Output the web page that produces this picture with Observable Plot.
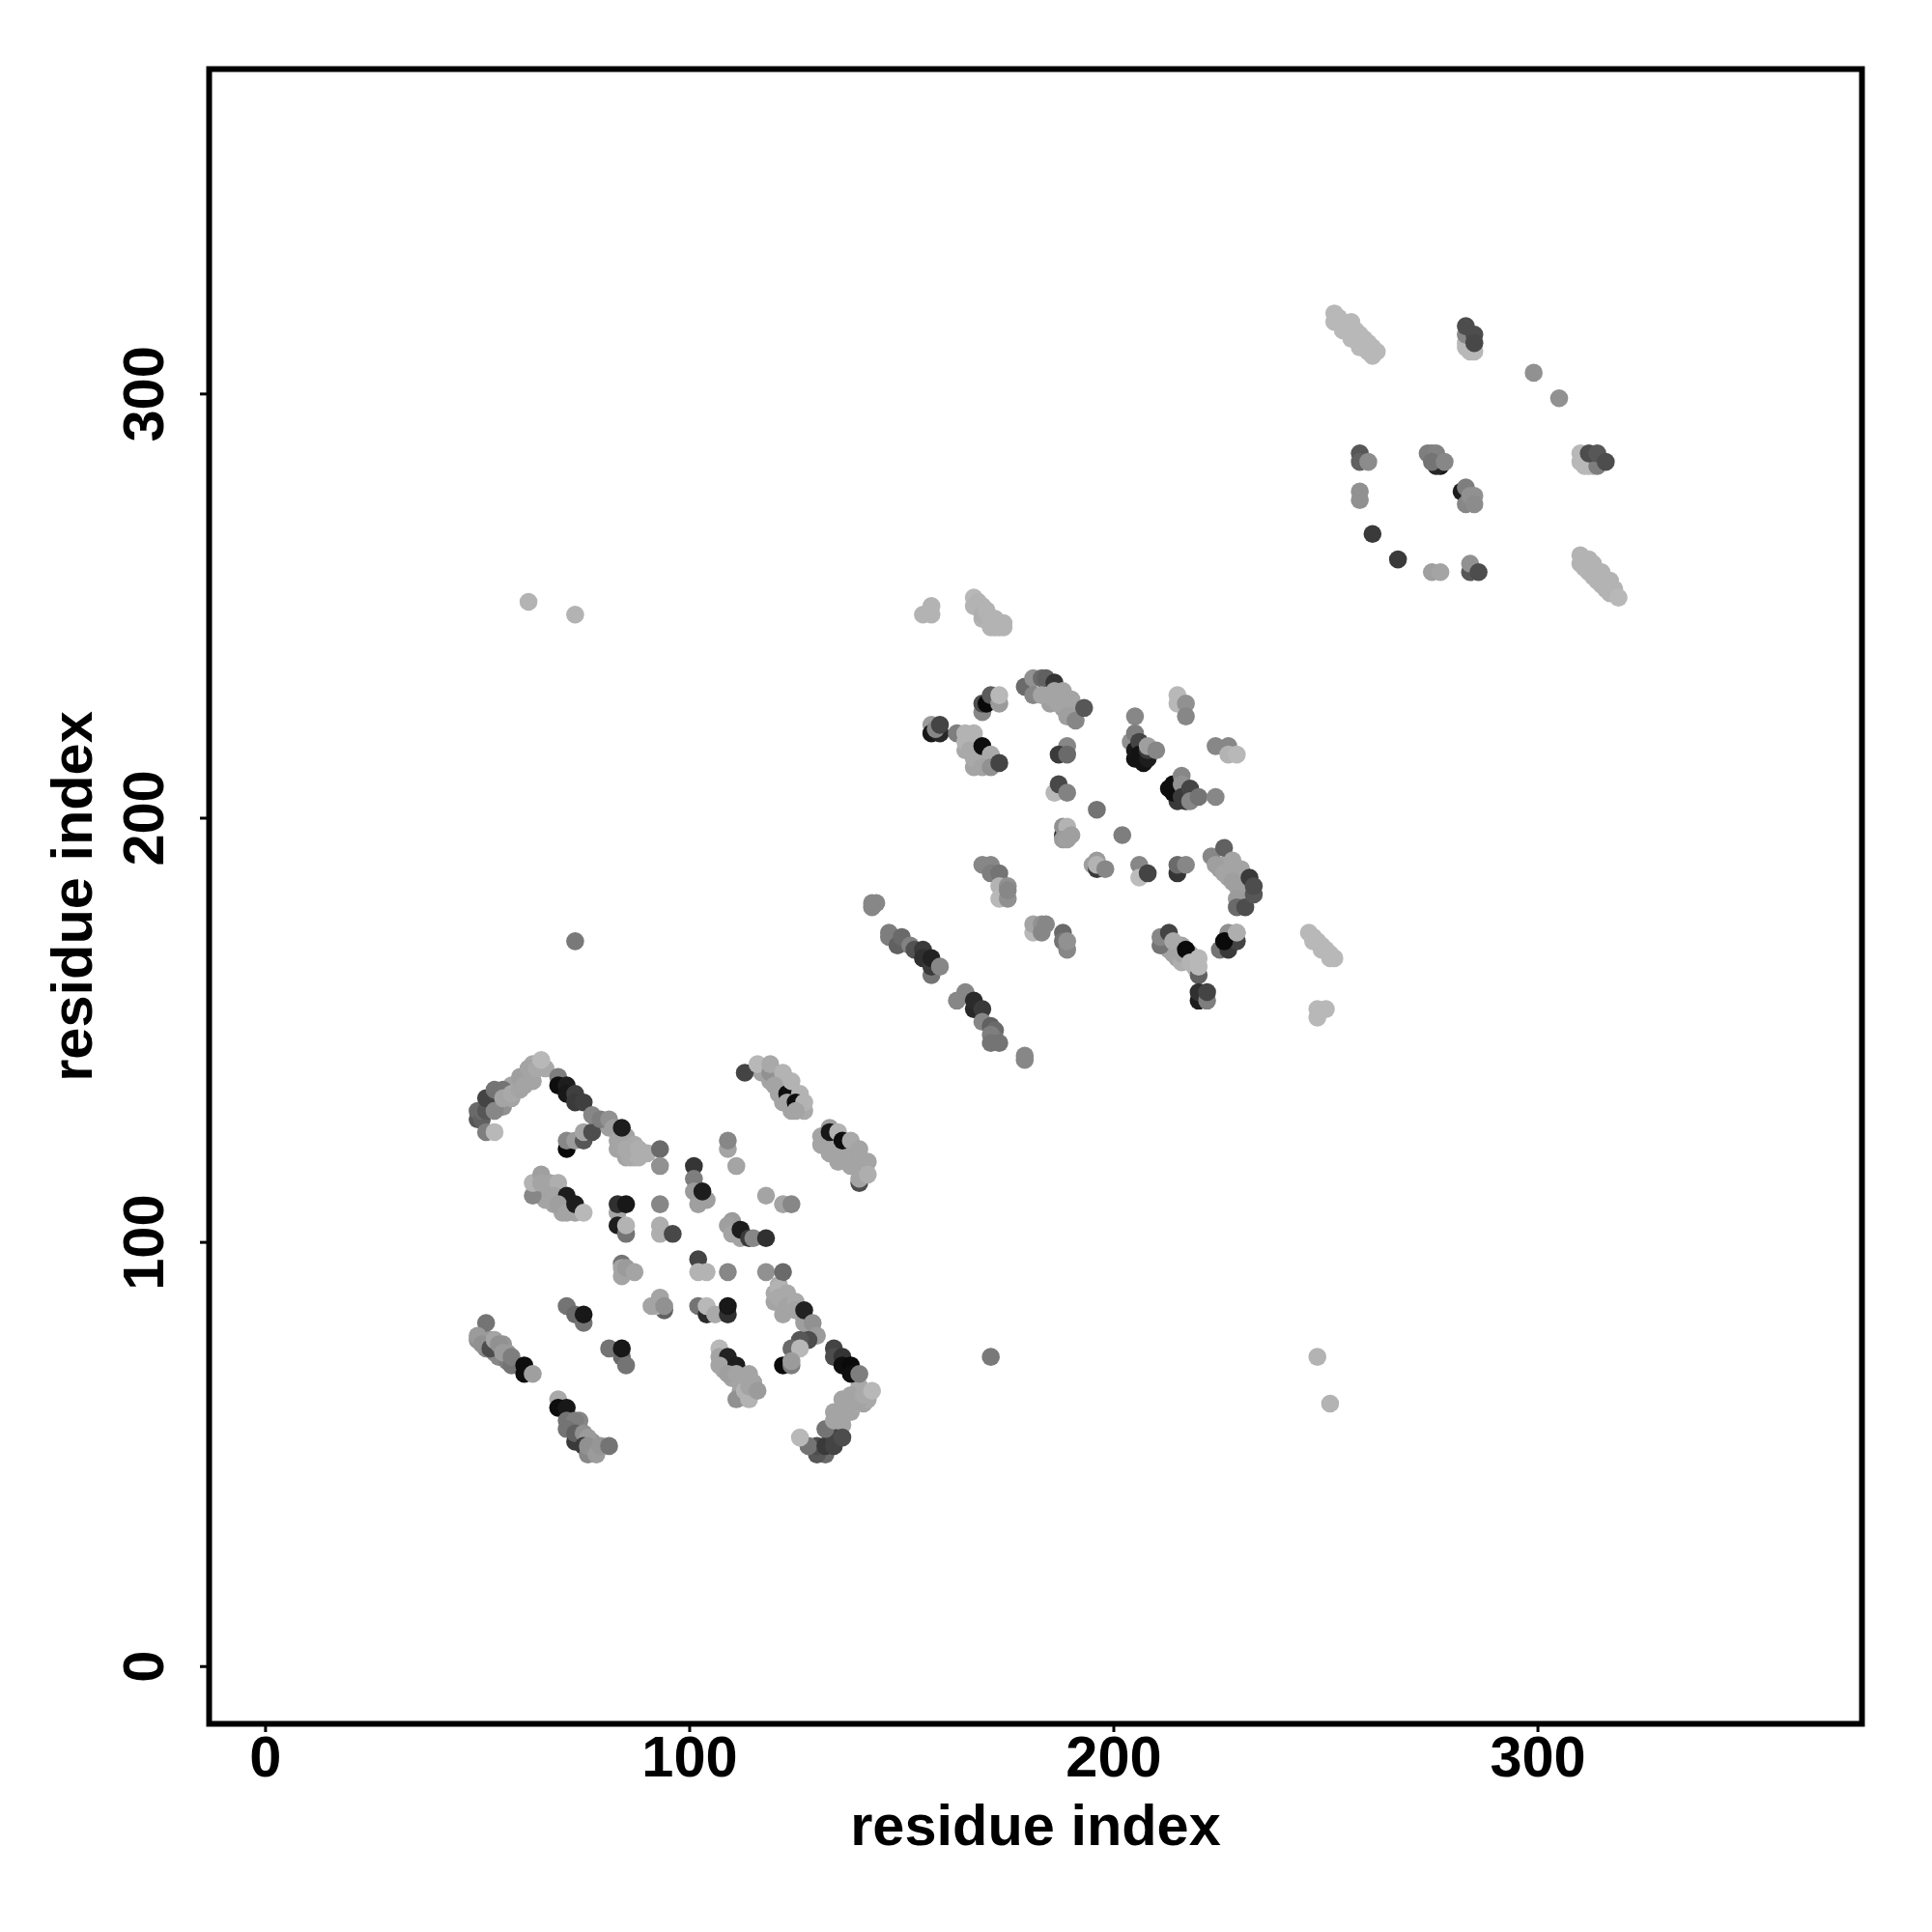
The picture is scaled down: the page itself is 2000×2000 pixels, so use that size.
<!DOCTYPE html>
<html><head><meta charset="utf-8">
<script src="https://cdn.jsdelivr.net/npm/d3@7"></script>
<script src="https://cdn.jsdelivr.net/npm/@observablehq/plot@0.6"></script>
<style>html,body{margin:0;padding:0;background:#fff}svg{display:block}</style>
</head><body><div id="chart"></div>
<script>
// each entry: residue x, residue y, grey shade (0 black .. 255 white)
const strandInfillLow=[[56,132,150],[58,137,170],[60,138,170],[63,138,170],[63,142,175],[66,141,175],[81,127,165],[83,122,170],[85,120,170],[86,120,175],[87,120,175],[88,120,180],[90,121,180],[65,112,170],[67,112,170],[66,110,170],[68,109,170],[70,107,170],[50,77,150],[52,77,150],[52,75,140],[54,74,140],[55,73,140],[57,72,130],[53,77,160],[56,76,155],[57,74,160],[74,56,130],[75,54,140],[77,51,155],[77,53,150],[74,58,140],[72,57,130],[78,52,155],[108,70,170],[110,68,170],[112,69,170],[112,65,170],[113,67,170],[115,67,170],[110,71,170],[108,72,170],[134,56,170],[136,57,170],[136,59,170],[138,60,170],[139,62,175],[141,62,170],[140,66,175],[142,63,175],[127,82,165],[122,83,170],[120,86,170],[120,88,175],[121,90,180],[117,140,170],[119,138,170],[121,137,170],[123,137,170],[125,135,175],[122,133,170],[124,131,170],[126,132,175],[127,131,175],[131,123,170],[133,121,170],[135,123,170],[137,121,170],[135,119,170],[137,120,170],[139,118,170],[140,118,170],[141,116,170]];
const strandInfillHigh=[[185,229,170],[187,229,170],[188,226,165],[189,226,170],[190,225,165],[185,227,165],[186,228,170],[165,216,175],[169,214,175],[169,215,175],[167,212,170],[170,214,175],[168,216,175],[225,188,165],[227,186,170],[226,189,170],[228,187,170],[230,185,170],[231,186,170],[230,183,165],[212,170,170],[213,169,170],[214,168,170],[215,167,170],[216,170,170],[218,168,170],[216,166,180],[219,165,185],[205,214,20],[207,213,20],[206,216,25],[207,215,25],[213,207,15],[215,206,30],[217,204,60],[215,204,60],[217,206,60],[214,207,20],[247,171,190],[249,169,190],[251,167,190],[169,247,185],[171,245,185],[173,245,185],[174,245,185],[252,317,190],[254,315,190],[256,313,190],[258,311,190],[260,310,190],[261,309,190],[311,259,185],[313,257,185],[315,255,185],[317,253,185],[313,260,185],[315,258,185],[317,256,185],[318,254,185],[311,284,190],[312,283,190]];
const clusterA=[[50,129,90],[50,131,110],[51,129,100],[51,131,110],[52,131,90],[52,126,130],[54,126,190],[53,134,80],[52,134,70],[54,134,70],[54,131,140],[54,136,120],[56,136,120],[56,134,170],[58,134,170],[58,135,175],[60,136,170],[60,139,165],[61,137,170],[62,141,170],[63,140,170],[64,141,175],[65,142,175],[65,143,190]];
const clusterB=[[69,139,130],[69,137,15],[71,137,30],[71,135,25],[73,135,65],[73,133,60],[75,133,65]];
const clusterC=[[71,122,10],[71,124,140],[73,124,160],[75,124,90],[75,126,170],[77,126,80],[77,130,140],[79,129,130],[81,129,150],[82,127,165],[83,124,170],[85,125,170],[84,127,30],[85,122,175],[87,123,175],[88,122,180],[89,121,180]];
const centreUpper=[[93,122,110],[93,118,150],[101,118,55],[101,115,130],[101,112,160],[104,110,165],[102,109,165],[103,112,30],[109,122,170],[109,124,140],[111,118,170],[118,111,170],[122,109,170],[124,109,140]];
const clusterD=[[63,111,140],[63,114,185],[65,116,165],[65,114,170],[67,114,170],[69,114,180],[68,111,170],[71,111,30],[69,109,165],[71,107,170],[73,107,170],[73,109,30],[75,107,190]];
const centreMid=[[83,107,170],[83,109,50],[85,109,25],[83,104,30],[85,102,120],[85,104,185],[93,109,140],[93,102,180],[93,104,180],[96,102,75],[110,105,160],[109,104,165],[110,102,170],[112,101,170],[112,103,30],[114,101,60],[115,101,140],[118,101,50],[102,96,70],[102,93,185],[104,93,185],[109,93,140],[118,93,150],[122,93,110],[84,95,120],[84,92,170],[84,94,170],[85,94,160],[87,93,170]];
const centreLow=[[94,84,100],[92,85,185],[91,85,170],[93,87,170],[94,85,150],[102,85,120],[104,83,45],[104,85,190],[106,83,175],[109,83,50],[109,85,25],[71,85,120],[73,83,110],[75,81,120],[75,83,25]];
const clusterE=[[121,89,185],[121,87,175],[123,88,175],[123,85,170],[125,86,175],[125,84,170],[127,81,165],[127,84,35],[129,79,165],[129,81,150],[130,78,160],[128,77,80],[126,77,90],[124,75,110],[126,75,190],[122,71,10],[124,71,130],[124,72,160]];
const clusterF=[[52,81,120],[50,78,160],[51,76,150],[53,75,80],[54,77,170],[55,76,150],[56,74,160],[58,71,120],[58,73,130],[61,71,15],[61,69,15],[63,69,165]];
const clusterG=[[69,63,175],[69,61,15],[71,61,25],[71,58,120],[73,58,130],[71,56,120],[73,53,60],[73,55,100],[75,55,150],[76,54,160],[75,52,60],[76,50,140],[76,52,150],[78,50,160],[79,52,155],[81,52,120]];
const clusterH=[[81,75,120],[84,73,110],[84,75,25],[85,71,120]];
const clusterI=[[107,75,190],[107,73,170],[109,73,35],[107,71,170],[111,71,30],[109,69,165],[111,69,170],[114,69,170],[112,67,170],[111,63,150],[113,65,185],[114,63,185],[114,66,170],[116,65,160]];
const clusterJ=[[134,75,70],[134,73,80],[136,73,55],[136,71,15],[138,71,10],[138,69,15],[140,69,130]];
const clusterK=[[132,50,110],[130,50,90],[130,52,80],[128,52,120],[126,54,190],[132,52,60],[134,52,70],[134,54,70],[136,54,80],[132,56,120],[134,58,170],[134,60,170],[136,60,170],[136,63,170],[138,62,170],[138,64,170],[140,63,170],[141,64,175],[143,65,190]];
const clusterL=[[113,140,70],[116,142,190],[119,140,150],[119,142,175],[122,140,185],[120,137,170],[121,135,170],[123,135,15],[124,138,185],[126,135,185],[123,133,170],[125,133,15],[127,133,185],[125,131,170]];
const clusterM=[[131,125,170],[133,123,170],[133,127,165],[133,126,25],[135,126,185],[135,121,170],[136,124,15],[138,124,175],[138,118,170],[140,114,80],[140,115,170],[140,122,170],[142,119,170],[142,116,180]];
const topPairs=[[155,248,185],[157,250,185],[157,248,185],[167,252,190],[167,250,185],[168,251,185],[169,250,185],[169,248,180],[170,249,185],[171,247,185],[172,247,185],[171,246,185],[172,245,185],[173,246,185],[174,246,185]];
const clusterN=[[157,222,160],[157,220,25],[159,220,40],[158,221,140],[159,222,70]];
const clusterO=[[163,220,130],[165,220,185],[167,220,185],[165,218,185],[167,218,185],[166,216,175],[167,214,175],[169,217,15],[171,215,175],[169,212,170],[171,212,150],[173,213,70]];
const clusterP=[[169,225,140],[169,227,80],[170,227,10],[171,229,95],[173,227,160],[173,229,190]];
const clusterQ=[[179,231,110],[181,233,150],[181,229,140],[183,233,110],[184,233,100],[186,232,55],[183,229,170],[186,230,170],[188,230,170],[187,227,170],[190,228,170],[189,224,165],[191,223,140],[193,226,90]];
const clusterR=[[189,217,140],[187,215,60],[189,215,110],[186,206,190],[187,208,75],[189,206,135],[196,202,120],[202,196,130]];
const clusterS=[[188,196,50],[188,198,150],[189,198,185],[188,195,160],[189,195,165],[190,196,165],[195,189,165],[196,190,160],[196,188,60],[196,189,185],[198,188,140],[206,189,140],[206,186,195],[208,187,70],[215,187,55],[215,189,110],[217,189,140]];
const clusterT=[[169,189,140],[171,189,140],[171,187,130],[173,187,120],[173,184,185],[173,181,190],[175,181,150],[175,184,150],[175,183,140]];
const clusterU=[[143,179,140],[143,180,140],[144,180,140],[147,173,130],[147,172,130],[149,170,100],[150,172,110],[152,170,135],[153,169,85],[155,169,60],[155,167,50],[157,163,120],[157,165,60],[157,167,35],[159,165,140]];
const clusterV=[[181,173,190],[181,175,170],[183,175,150],[184,175,140],[183,173,140],[188,173,110],[188,171,120],[189,169,140],[189,171,150]];
const clusterW=[[211,170,120],[211,172,140],[213,173,70],[214,171,175],[216,168,170],[217,169,10],[220,163,100],[218,166,185],[220,165,190],[220,167,190],[220,157,30],[220,159,50],[222,157,130],[222,159,70]];
const clusterX=[[227,173,150],[229,173,180],[225,169,120],[227,169,60],[229,171,70],[226,171,10],[229,173,180]];
const clusterY=[[223,191,140],[226,193,100],[224,189,165],[228,190,170],[226,187,170],[230,188,170],[228,185,165],[229,184,165],[229,181,160],[229,179,110],[231,179,80],[232,186,60],[233,182,90],[233,184,80]];
const clusterZ=[[205,224,140],[204,218,150],[205,220,130],[205,216,25],[206,218,70],[206,215,20],[208,214,30],[208,216,60],[208,217,165],[210,216,140],[215,229,190],[215,227,190],[217,227,150],[217,224,140]];
const clusterAA=[[214,206,15],[214,208,15],[216,210,140],[216,208,150],[216,205,60],[218,207,70],[218,204,140],[220,205,120],[224,205,140],[224,217,140],[227,217,140],[227,215,185],[229,215,190]];
const clusterAB=[[165,159,140],[163,157,140],[167,155,40],[167,157,45],[169,155,60],[169,152,140],[171,151,100],[172,150,110],[172,148,120],[171,149,130],[171,147,120],[173,147,120],[179,143,140],[179,144,140]];
const rightPairs=[[246,173,190],[247,172,190],[248,171,190],[249,170,190],[250,169,190],[251,168,190],[252,167,190],[248,153,190],[248,155,190],[250,155,190]];
const farPoints=[[73,248,185],[62,251,185],[73,171,125],[171,73,125],[248,73,185],[251,62,185]];
const topStrand=[[252,319,190],[253,318,190],[254,317,190],[256,317,190],[255,316,190],[257,315,190],[258,314,190],[259,313,190],[260,312,190],[260,310,190],[261,311,190],[262,310,190]];
const topKnot=[[283,311,190],[283,312,190],[284,310,190],[285,310,190],[284,312,190],[283,314,140],[283,316,80],[285,314,80],[285,312,75]];
const loop=[[299,305,150],[305,299,150],[258,286,90],[258,284,100],[260,284,145],[258,277,150],[258,275,150],[261,267,60],[267,261,60],[275,258,165],[277,258,170],[284,258,90],[284,260,150],[286,258,80]];
const innerKnot=[[277,283,25],[276,283,40],[274,286,130],[275,286,130],[276,286,135],[275,284,120],[278,284,140],[282,277,30],[283,278,130],[283,274,140],[284,276,150],[285,276,150],[285,274,145]];
const rightKnot=[[310,286,190],[310,284,190],[311,283,190],[313,283,190],[314,283,130],[312,286,80],[314,286,90],[316,284,80]];
const lowerStrand=[[310,262,185],[310,260,185],[312,261,185],[312,258,185],[314,258,185],[314,256,185],[316,256,185],[316,254,185],[317,255,185],[319,252,190]];

const contacts=[strandInfillLow,strandInfillHigh,clusterA,clusterB,clusterC,centreUpper,clusterD,centreMid,centreLow,clusterE,clusterF,clusterG,clusterH,clusterI,clusterJ,clusterK,clusterL,clusterM,topPairs,clusterN,clusterO,clusterP,clusterQ,clusterR,clusterS,clusterT,clusterU,clusterV,clusterW,clusterX,clusterY,clusterZ,clusterAA,clusterAB,rightPairs,farPoints,topStrand,topKnot,loop,innerKnot,rightKnot,lowerStrand].flat().map(([x,y,shade])=>({x,y,shade}));
const tickValues=[0,100,200,300];
const axisLabel="residue index";

const chart=Plot.plot({
  width:2000,height:2000,
  marginLeft:216,marginRight:73,marginTop:71,marginBottom:216,
  style:{background:"#fff",fontFamily:"'Liberation Sans',Arial,sans-serif",color:"#000"},
  x:{domain:[-13.3,376.4]},
  y:{domain:[-13.5,376.6]},
  color:{type:"linear",domain:[0,264],range:["#000","#fff"]},
  marks:[
    Plot.dot(contacts,{x:"x",y:"y",r:9.3,fill:"shade",stroke:"none"}),
    Plot.frame({stroke:"#000",strokeWidth:6}),
    Plot.axisX({ticks:tickValues,tickSize:9,strokeWidth:3,tickPadding:3,fontSize:59.5,fontWeight:"bold",label:axisLabel,labelAnchor:"center",labelArrow:"none",labelOffset:125,tickFormat:d=>String(d)}),
    Plot.axisY({ticks:tickValues,tickSize:9,strokeWidth:3,tickPadding:39,fontSize:59.5,fontWeight:"bold",tickRotate:-90,label:axisLabel,labelAnchor:"center",labelArrow:"none",labelOffset:164,tickFormat:d=>String(d)})
  ]
});
document.getElementById("chart").append(chart);
</script></body></html>
